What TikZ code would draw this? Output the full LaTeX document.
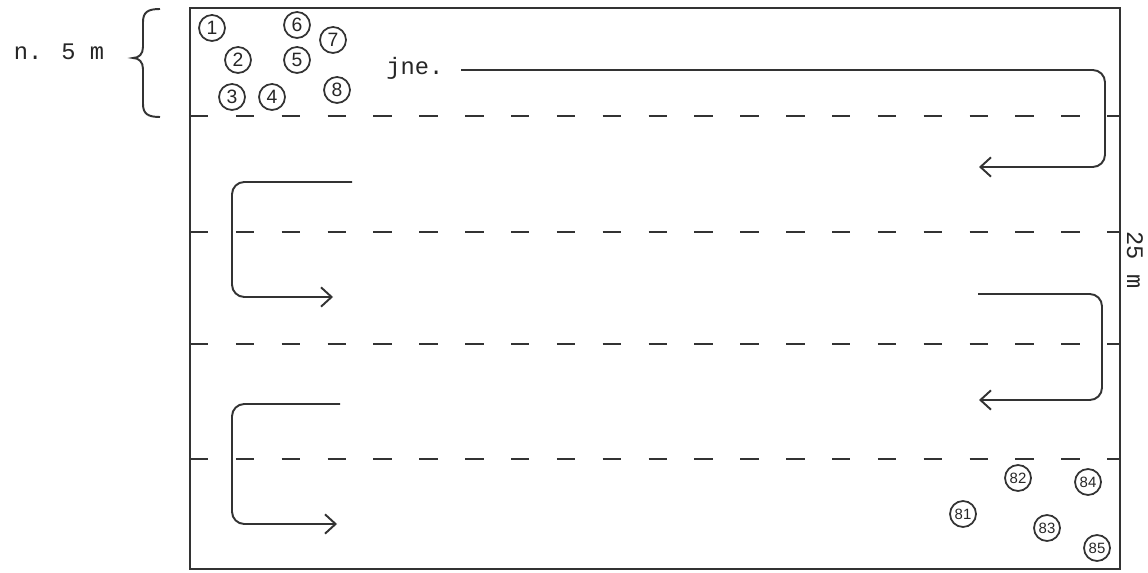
\documentclass[tikz,border=0pt]{standalone}
\usepackage{fontspec}
\setmainfont{Liberation Serif}
\newfontfamily\typefont{Liberation Mono}
\newfontfamily\handfont{Liberation Sans}
\usetikzlibrary{arrows.meta}
\tikzset{
  ink/.style={draw=black!80, line width=1.1pt},
  lanedash/.style={draw=black!80, line width=1.5pt, dash pattern=on 10.5pt off 15.6pt},
  route/.style={draw=black!80, line width=1.1pt, rounded corners=7pt,
    -{Straight Barb[length=6pt,width=11pt,line width=1.1pt]}},
  pin/.style={circle, draw=black!80, line width=1pt, minimum size=0.52cm, inner sep=0pt,
    font=\handfont\fontsize{11}{11}\selectfont, text=black!85},
  pinsmall/.style={pin, font=\handfont\fontsize{8.5}{9}\selectfont},
  label/.style={font=\typefont\fontsize{13.5}{15}\selectfont, inner sep=0pt, text=black!85},
}
\begin{document}
\begin{tikzpicture}[x=0.02cm, y=-0.02cm]
  \clip (0,0) rectangle (1148,573);
  \fill[white] (0,0) rectangle (1148,573);

  % field outline
  \draw[ink, line width=1.2pt] (190,8) rectangle (1120,569);

  % lane separators
  \foreach \yy in {116,232,344,459}
    \draw[lanedash] (190,\yy) -- (1120,\yy);

  % width brace and label
  \draw[ink] (160,9) .. controls (148,9) and (143,12) .. (143,22) -- (143,47)
    .. controls (143,54) and (139,58) .. (133,58)
    .. controls (139,58) and (143,62) .. (143,69) -- (143,104)
    .. controls (143,114) and (148,117) .. (160,117);
  \node[label] (width) at (59,52) {n. 5 m};
  \node[label, rotate=-90] (length) at (1135,260) {25 m};

  % starting group
  \node[pin] (p1) at (212,28) {1};
  \node[pin] (p2) at (238,60) {2};
  \node[pin] (p3) at (232,97) {3};
  \node[pin] (p4) at (272,97) {4};
  \node[pin] (p5) at (297,60) {5};
  \node[pin] (p6) at (297,25) {6};
  \node[pin] (p7) at (333,40) {7};
  \node[pin] (p8) at (337,90) {8};

  % finishing group
  \node[pinsmall] (p81) at (963,514) {81};
  \node[pinsmall] (p82) at (1018,478) {82};
  \node[pinsmall] (p83) at (1047,528) {83};
  \node[pinsmall] (p84) at (1088,482) {84};
  \node[pinsmall] (p85) at (1097,548) {85};

  % route through the lanes
  \node[label, anchor=base west] (jne) at (386,75) {jne.};
  \coordinate (r1s) at (461,70);
  \coordinate (r1e) at (979,167);
  \coordinate (l1s) at (352,182);
  \coordinate (l1e) at (333,297);
  \coordinate (r2s) at (978,294);
  \coordinate (r2e) at (979,400);
  \coordinate (l2s) at (340,404);
  \coordinate (l2e) at (337,524);

  \draw[route] (r1s) -- (1105,70) -- (1105,167) -- (r1e);
  \draw[route] (l1s) -- (232,182) -- (232,297) -- (l1e);
  \draw[route] (r2s) -- (1102,294) -- (1102,400) -- (r2e);
  \draw[route] (l2s) -- (232,404) -- (232,524) -- (l2e);
\end{tikzpicture}
\end{document}
